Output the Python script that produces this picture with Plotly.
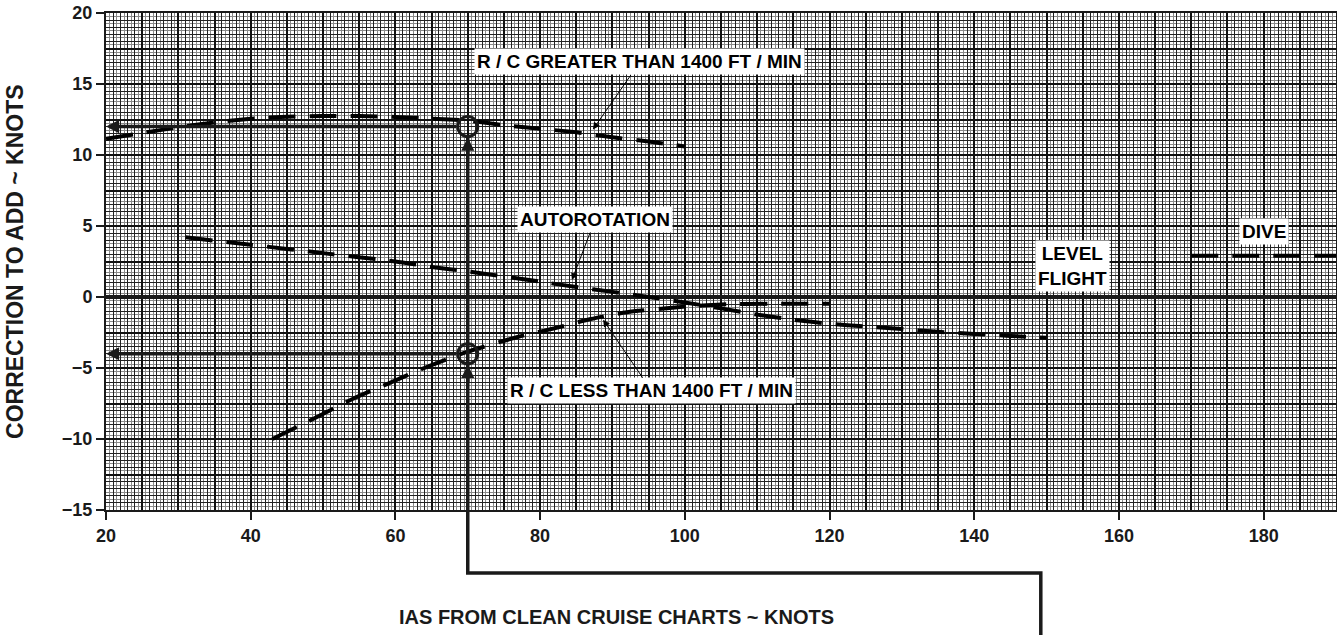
import plotly.graph_objects as go

# ---------------- data ----------------
gt_x = [20, 25, 30, 35, 40, 45, 50, 55, 60, 65, 70, 75, 80, 85, 90, 95, 100]
gt_y = [11.15, 11.55, 11.95, 12.3, 12.55, 12.7, 12.75, 12.75, 12.68, 12.55, 12.42, 12.1, 11.85, 11.6, 11.25, 10.95, 10.6]

auto_x = [31, 40, 50, 60, 65, 70, 75, 80, 85, 90, 95, 100, 105, 110, 115, 120, 125, 130, 135, 140, 145, 150]
auto_y = [4.2, 3.68, 3.09, 2.5, 2.12, 1.8, 1.45, 1.08, 0.7, 0.36, 0.0, -0.38, -0.8, -1.24, -1.6, -1.88, -2.08, -2.25, -2.45, -2.6, -2.74, -2.87]

less_x = [43, 48, 54, 59, 64, 70, 77, 82, 87, 92, 99, 105, 112, 120]
less_y = [-10.0, -8.75, -7.2, -6.1, -5.0, -3.85, -2.8, -2.2, -1.55, -1.07, -0.72, -0.52, -0.48, -0.48]

dive_x = [170, 190]
dive_y = [2.9, 2.9]

x_ticks = [20, 40, 60, 80, 100, 120, 140, 160, 180]
y_ticks = [20, 15, 10, 5, 0, -5, -10, -15]
x_range = [20, 190]
y_range = [-15, 20]

# example reading
read_ias = 70
read_corr = [12, -4]
entry_ias = 149.2          # where the guide line enters from the cruise chart
guide_turn_paper = -0.127  # guide line corner below the plot (paper units)
guide_end_paper = -0.27

# ---------------- figure ----------------
INK = "#1a1a1a"
DASH = "27px,14px"
FONT = "Liberation Sans, Arial, sans-serif"

fig = go.Figure()
for xs, ys in [(gt_x, gt_y), (auto_x, auto_y), (less_x, less_y), (dive_x, dive_y)]:
    fig.add_trace(go.Scatter(x=xs, y=ys, mode="lines",
                             line=dict(color="black", width=4, dash=DASH, shape="spline", smoothing=0.6),
                             hoverinfo="skip", showlegend=False))
# invisible traces for the overlay axes (tick labels / heavy grid)
fig.add_trace(go.Scatter(x=[None], y=[None], xaxis="x2", yaxis="y2", showlegend=False))
fig.add_trace(go.Scatter(x=[None], y=[None], xaxis="x3", yaxis="y3", showlegend=False))


def to_paper(v):
    return (v - y_range[0]) / (y_range[1] - y_range[0])


shapes = []
shapes.append(dict(type="path", xref="x", yref="paper",
                   path=(f"M{entry_ias},{guide_end_paper} L{entry_ias},{guide_turn_paper} "
                         f"L{read_ias},{guide_turn_paper} L{read_ias},{to_paper(read_corr[0]) - 0.02}"),
                   line=dict(color=INK, width=3.5)))
for c in read_corr:
    shapes.append(dict(type="circle", xref="x", yref="y", xsizemode="pixel", ysizemode="pixel",
                       xanchor=read_ias, yanchor=c, x0=-10, x1=10, y0=-10, y1=10,
                       line=dict(color=INK, width=3)))

annotations = []
for c in read_corr:
    annotations.append(dict(x=x_range[0], y=c, ax=read_ias, ay=c, axref="x", ayref="y", xref="x", yref="y",
                            text="", showarrow=True, arrowhead=2, arrowsize=0.75, arrowwidth=3.5,
                            arrowcolor=INK, startstandoff=10))
    annotations.append(dict(x=read_ias, y=c, ax=0, ay=30, xref="x", yref="y",
                            text="", showarrow=True, arrowhead=2, arrowsize=0.75, arrowwidth=3.5,
                            arrowcolor=INK, standoff=11))

lab_font = dict(family=FONT, size=19, color="black", weight="bold")
labels = [
    ("R / C GREATER THAN 1400 FT / MIN", 93.8, 16.55, 87.3, 11.8),
    ("AUTOROTATION", 87.6, 5.45, 84.4, 1.2),
    ("R / C LESS THAN 1400 FT / MIN", 95.4, -6.6, 88.7, -1.6),
]
for t, lx, ly, tx, ty in labels:
    annotations.append(dict(x=tx, y=ty, ax=lx, ay=ly, axref="x", ayref="y", xref="x", yref="y",
                            text=t, font=lab_font, bgcolor="white", borderpad=2,
                            showarrow=True, arrowhead=2, arrowsize=1.4, arrowwidth=1, arrowcolor="black"))
annotations.append(dict(x=153.6, y=2.15, xref="x", yref="y", text="LEVEL<br>FLIGHT", showarrow=False,
                        font=lab_font, bgcolor="white", borderpad=2))
annotations.append(dict(x=180, y=4.6, xref="x", yref="y", text="DIVE", showarrow=False,
                        font=lab_font, bgcolor="white", borderpad=2))
annotations.append(dict(xref="paper", yref="paper", x=-0.074, y=0.501, xanchor="center", yanchor="middle",
                        text="CORRECTION TO ADD ~ KNOTS", textangle=-90, showarrow=False,
                        font=dict(family=FONT, size=23, color=INK, weight="bold")))
annotations.append(dict(xref="paper", yref="paper", x=0.4154, y=-0.2153, xanchor="center", yanchor="middle",
                        text="IAS FROM CLEAN CRUISE CHARTS ~ KNOTS", showarrow=False,
                        font=dict(family=FONT, size=20, color=INK, weight="bold")))

tick_font = dict(family=FONT, size=18, color=INK, weight="bold")
fig.update_layout(
    width=1337, height=635,
    margin=dict(l=106, r=1, t=13, b=125, autoexpand=False),
    paper_bgcolor="white", plot_bgcolor="white",
    showlegend=False,
    hovermode=False,
    xaxis=dict(range=x_range, dtick=1, tick0=0, showgrid=True, gridcolor="#222", gridwidth=1,
               minor=dict(dtick=0.5, showgrid=True, gridcolor="#8a8a8a", gridwidth=1),
               showticklabels=False, ticks="", zeroline=False, automargin=False,
               showline=True, linecolor=INK, linewidth=2, mirror=True),
    yaxis=dict(range=y_range, dtick=0.5, tick0=0, showgrid=True, gridcolor="#222", gridwidth=1,
               minor=dict(dtick=0.25, showgrid=True, gridcolor="#8a8a8a", gridwidth=1),
               showticklabels=False, ticks="", zeroline=False, automargin=False,
               showline=True, linecolor=INK, linewidth=2, mirror=True),
    xaxis3=dict(range=x_range, overlaying="x", anchor="y", dtick=5, tick0=0, showgrid=True,
                gridcolor="#111", gridwidth=2, showticklabels=False, ticks="", zeroline=False,
                showline=False, automargin=False),
    yaxis3=dict(range=y_range, overlaying="y", anchor="x", dtick=2.5, tick0=0, showgrid=True,
                gridcolor="#111", gridwidth=2, showticklabels=False, ticks="",
                zeroline=True, zerolinecolor=INK, zerolinewidth=3.5, showline=False, automargin=False),
    xaxis2=dict(range=x_range, overlaying="x", anchor="y", side="bottom", tickvals=x_ticks,
                ticks="outside", ticklen=9, tickwidth=1.5, tickcolor=INK, tickfont=tick_font,
                ticklabeloverflow="allow",
                showgrid=False, zeroline=False, showline=False, automargin=False),
    yaxis2=dict(range=y_range, overlaying="y", anchor="x", side="left", tickvals=y_ticks,
                ticks="outside", ticklen=9, tickwidth=1.5, tickcolor=INK, tickfont=tick_font,
                ticklabeloverflow="allow",
                showgrid=False, zeroline=False, showline=False, automargin=False),
    shapes=shapes,
    annotations=annotations,
)

# drop the browser's default 8px body margin so the figure fills the window exactly
fig.write_html("out.html", config={"displayModeBar": False},
               post_script="document.body.style.margin='0';document.body.style.overflow='hidden';")
